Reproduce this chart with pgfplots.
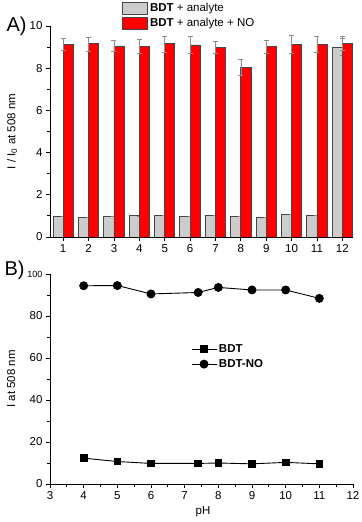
\documentclass[border=0pt]{standalone}
\usepackage{fontspec}
\setmainfont{Liberation Sans}
\usepackage{pgfplots}
\pgfplotsset{compat=1.18}

\definecolor{barred}{RGB}{255,0,0}
\definecolor{bargray}{RGB}{204,204,204}
\definecolor{edgegray}{RGB}{70,70,70}
\definecolor{errgray}{RGB}{140,140,140}

\pgfplotsset{
  common/.style={
    scale only axis, width=303bp,
    axis lines=left, axis line style={-, line width=0.9bp},
    tick align=outside, major tick length=4bp, minor tick length=2.5bp,
    tick style={line width=0.8bp, black},
    /pgf/number format/assume math mode=true,
    tick label style={font=\fontsize{11.5bp}{13bp}\selectfont},
    label style={font=\fontsize{11.5bp}{13bp}\selectfont},
    legend style={draw=none, fill=none, inner sep=0pt,
      font=\fontsize{11.5bp}{13bp}\selectfont, row sep=1.5bp,
      legend cell align=left},
  },
}

% category  mean  error
\pgfplotstableread{
x y e
1 0.98 0
2 0.93 0
3 0.97 0
4 1.00 0
5 1.03 0
6 0.99 0
7 1.02 0
8 0.97 0
9 0.95 0
10 1.07 0
11 1.02 0
12 9.00 0.40
}\gray
\pgfplotstableread{
x y e
1 9.12 0.28
2 9.15 0.33
3 9.05 0.27
4 9.03 0.32
5 9.15 0.38
6 9.10 0.40
7 9.00 0.28
8 8.03 0.38
9 9.02 0.30
10 9.12 0.42
11 9.13 0.38
12 9.18 0.35
}\red

\begin{document}
\begin{tikzpicture}
\path[use as bounding box] (0,0) rectangle (362bp,522bp);

\begin{axis}[common,
  at={(50bp,285bp)}, anchor=south west, height=211bp,
  xmin=0.48, xmax=12.42, ymin=0, ymax=10,
  xtick={1,...,12}, ytick={0,2,...,10}, minor ytick={1,3,...,9},
  ylabel={I / I\textsubscript{0} at 508 nm},
  ylabel style={at={(axis description cs:-0.125,0.5)}, anchor=center},
  legend style={at={(axis description cs:0.2376,1.118)}, anchor=north west},
  legend image code/.code={\draw[#1] (0bp,-6bp) rectangle (25bp,6bp);},
]
\addplot[ybar, bar width=0.4, bar shift=-0.2, fill=bargray, draw=edgegray, line width=0.9bp,
  error bars/.cd, y dir=both, y explicit,
  error bar style={errgray, line width=0.6bp},
  error mark options={rotate=90, mark size=2.5bp, errgray, line width=0.6bp}]
  table[x=x, y=y, y error=e] {\gray};
\addlegendentry{\textbf{BDT} + analyte}
\addplot[ybar, bar width=0.4, bar shift=0.2, fill=barred, draw=edgegray, line width=0.9bp,
  error bars/.cd, y dir=both, y explicit,
  error bar style={errgray, line width=0.6bp},
  error mark options={rotate=90, mark size=2.5bp, errgray, line width=0.6bp}]
  table[x=x, y=y, y error=e] {\red};
\addlegendentry{\textbf{BDT} + analyte + NO}
\end{axis}

\begin{axis}[common,
  at={(50bp,38bp)}, anchor=south west, height=210bp,
  xmin=3, xmax=12, ymin=0, ymax=100,
  xtick={3,...,12}, minor x tick num=1,
  ytick={0,20,...,80}, minor ytick={10,30,...,90},
  extra y ticks={100},
  extra y tick style={tick label style={font=\fontsize{9bp}{10bp}\selectfont}},
  xlabel={pH}, ylabel={I at 508 nm},
  xlabel style={at={(axis description cs:0.505,-0.133)}, anchor=center},
  ylabel style={at={(axis description cs:-0.128,0.5)}, anchor=center},
  legend style={at={(axis description cs:0.465,0.675)}, anchor=north west},
  legend image code/.code={\draw[mark repeat=2, mark phase=2, #1]
    plot coordinates {(0bp,0bp) (12.5bp,0bp) (25bp,0bp)};},
]
\addplot[black, line width=0.9bp, mark=square*, mark size=3.3bp] coordinates {
 (4,12.3)(5,10.7)(6,9.8)(7.4,9.8)(8,10.0)(9,9.6)(10,10.3)(11,9.6)};
\addlegendentry{\textbf{BDT}}
\addplot[black, line width=0.9bp, mark=*, mark size=4bp] coordinates {
 (4,94.4)(5,94.5)(6,90.5)(7.4,91.2)(8,93.6)(9,92.4)(10,92.4)(11,88.4)};
\addlegendentry{\textbf{BDT-NO}}
\end{axis}

\node[anchor=base west, font=\fontsize{20bp}{22bp}\selectfont] at (3bp,490bp) {A)};
\node[anchor=base west, font=\fontsize{20bp}{22bp}\selectfont] at (1bp,246bp) {B)};
\end{tikzpicture}
\end{document}
